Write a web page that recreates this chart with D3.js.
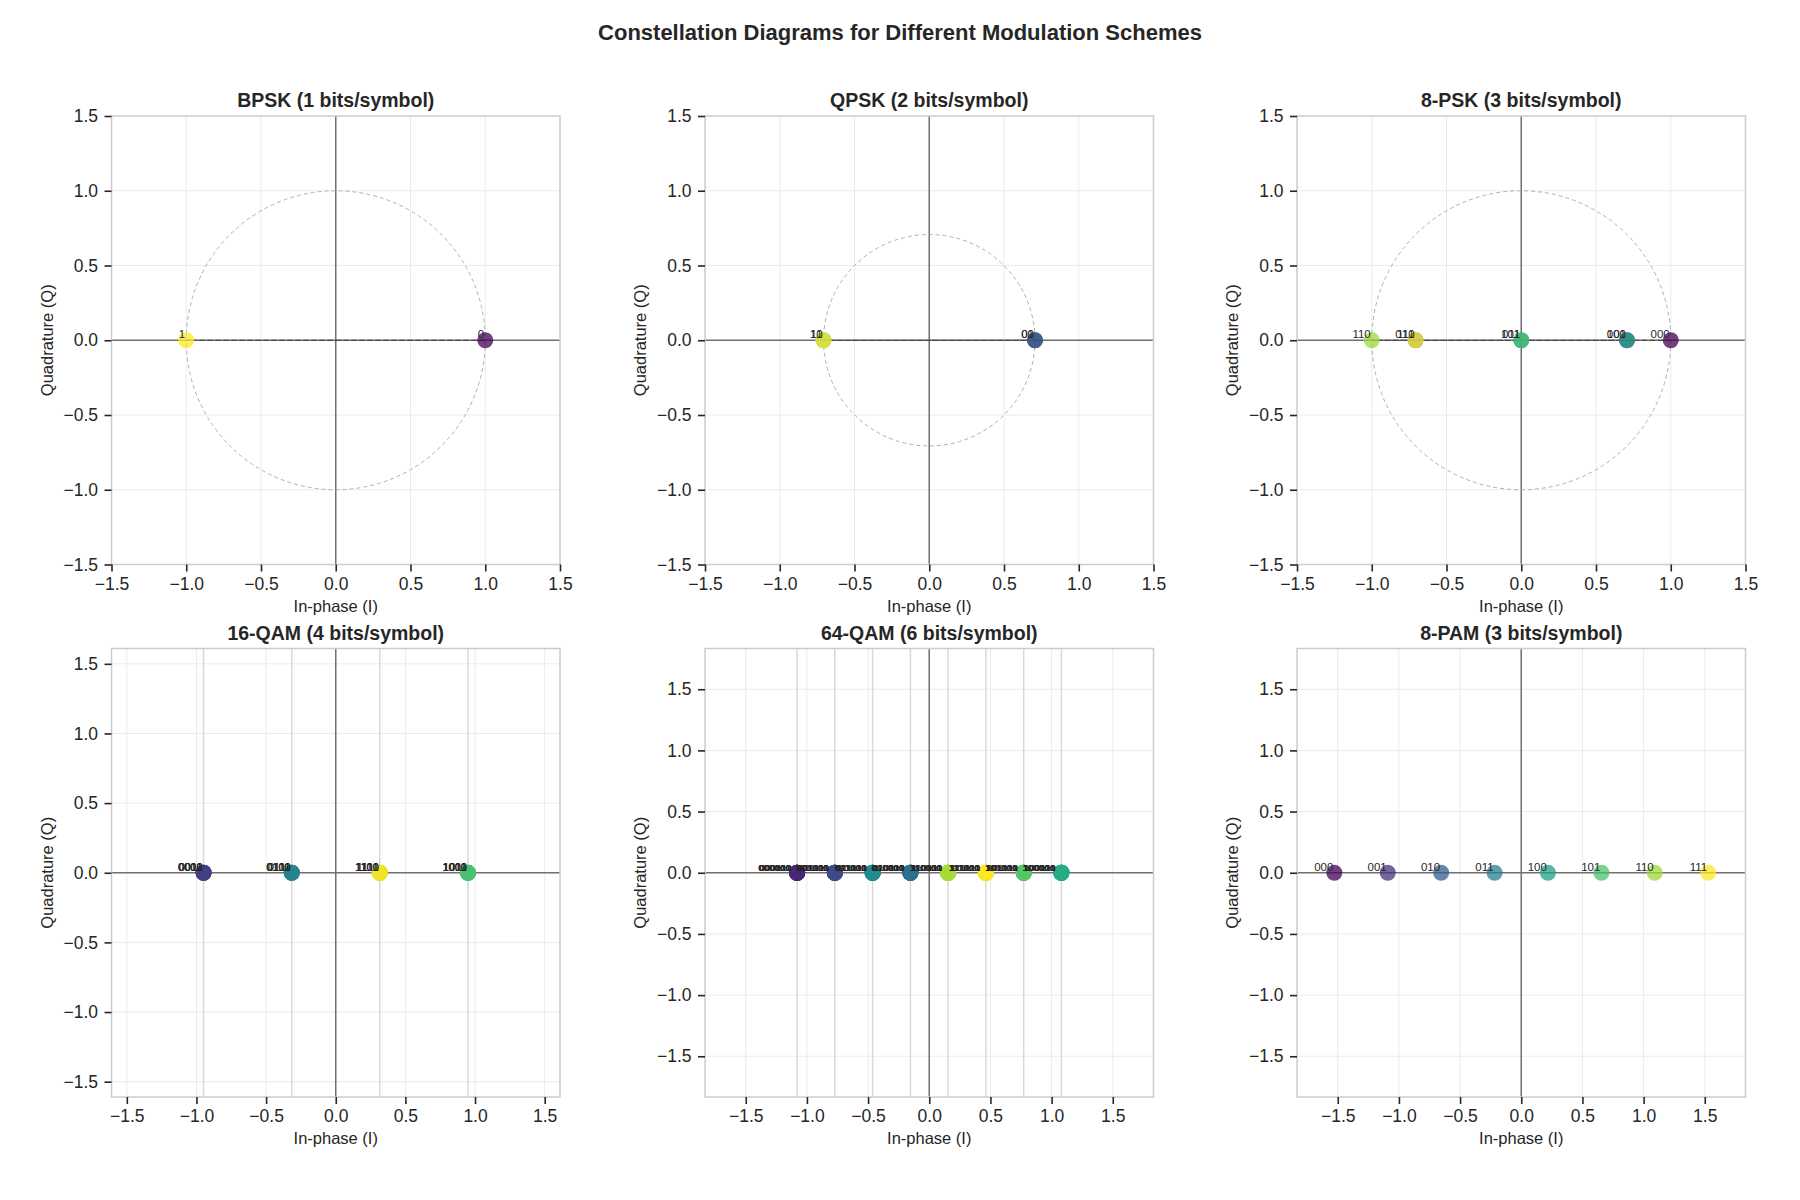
<!DOCTYPE html>
<html><head><meta charset="utf-8">
<script src="https://cdn.jsdelivr.net/npm/d3@7"></script>
<style>
body{margin:0;background:#fff}
text{font-family:"Liberation Sans",Arial,sans-serif}
</style>
</head><body>
<svg id="chart" width="1800" height="1200"></svg>
<script>
// ---------------- DATA ----------------
const mainTitle = "Constellation Diagrams for Different Modulation Schemes";
const panelTitles = ["BPSK (1 bits/symbol)", "QPSK (2 bits/symbol)", "8-PSK (3 bits/symbol)",
  "16-QAM (4 bits/symbol)", "64-QAM (6 bits/symbol)", "8-PAM (3 bits/symbol)"];
const tickLabels = [-1.5, -1.0, -0.5, 0.0, 0.5, 1.0, 1.5];
const axisLimits = [1.5, 1.5, 1.5, 1.61, 1.833, 1.833];

const bpskLabels = ["0", "1"];
const bpskI = [1.0, -1.0];
const bpskQ = [0, 0];

const qpskLabels = ["00", "01", "10", "11"];
const qpskI = [0.707, 0.707, -0.707, -0.707];
const qpskQ = [0, 0, 0, 0];

const psk8Labels = ["000", "001", "010", "011", "100", "101", "110", "111"];
const psk8I = [1.0, 0.707, -0.707, 0.0, 0.707, 0.0, -1.0, -0.707];
const psk8Q = [0, 0, 0, 0, 0, 0, 0, 0];

const qam16Labels = ["0000","0001","0010","0011","0100","0101","0110","0111",
  "1000","1001","1010","1011","1100","1101","1110","1111"];
const qam16I = [-0.949,-0.949,-0.949,-0.949,-0.316,-0.316,-0.316,-0.316,
  0.949,0.949,0.949,0.949,0.316,0.316,0.316,0.316];
const qam16Q = [0,0,0,0,0,0,0,0,0,0,0,0,0,0,0,0];

const qam64Labels = [
  "000000","000001","000010","000011","000100","000101","000110","000111",
  "001000","001001","001010","001011","001100","001101","001110","001111",
  "010000","010001","010010","010011","010100","010101","010110","010111",
  "011000","011001","011010","011011","011100","011101","011110","011111",
  "100000","100001","100010","100011","100100","100101","100110","100111",
  "101000","101001","101010","101011","101100","101101","101110","101111",
  "110000","110001","110010","110011","110100","110101","110110","110111",
  "111000","111001","111010","111011","111100","111101","111110","111111"];
const qam64I = [
  -1.080,-1.080,-1.080,-1.080,-1.080,-1.080,-1.080,-1.080,
  -0.772,-0.772,-0.772,-0.772,-0.772,-0.772,-0.772,-0.772,
  -0.154,-0.154,-0.154,-0.154,-0.154,-0.154,-0.154,-0.154,
  -0.463,-0.463,-0.463,-0.463,-0.463,-0.463,-0.463,-0.463,
  1.080,1.080,1.080,1.080,1.080,1.080,1.080,1.080,
  0.772,0.772,0.772,0.772,0.772,0.772,0.772,0.772,
  0.154,0.154,0.154,0.154,0.154,0.154,0.154,0.154,
  0.463,0.463,0.463,0.463,0.463,0.463,0.463,0.463];
const qam64Q = [
  0,0,0,0,0,0,0,0, 0,0,0,0,0,0,0,0, 0,0,0,0,0,0,0,0, 0,0,0,0,0,0,0,0,
  0,0,0,0,0,0,0,0, 0,0,0,0,0,0,0,0, 0,0,0,0,0,0,0,0, 0,0,0,0,0,0,0,0];

const pam8Labels = ["000", "001", "010", "011", "100", "101", "110", "111"];
const pam8I = [-1.528, -1.091, -0.655, -0.218, 0.218, 0.655, 1.091, 1.528];
const pam8Q = [0, 0, 0, 0, 0, 0, 0, 0];

const panelData = [
  {labels: bpskLabels, I: bpskI, Q: bpskQ, kind: "psk"},
  {labels: qpskLabels, I: qpskI, Q: qpskQ, kind: "psk"},
  {labels: psk8Labels, I: psk8I, Q: psk8Q, kind: "psk"},
  {labels: qam16Labels, I: qam16I, Q: qam16Q, kind: "qam"},
  {labels: qam64Labels, I: qam64I, Q: qam64Q, kind: "qam"},
  {labels: pam8Labels, I: pam8I, Q: pam8Q, kind: "pam"}
];

// ---------------- LAYOUT ----------------
const colLeft = [111.5, 705, 1297];
const rowTop = [116, 648.5];
const size = 448.5;
const labelFont = [11.5, 11.5, 11.5, 11, 9.8, 11.5];
const labelDx = [-1, -1, -1, -1, -6, -1];

const svg = d3.select("#chart");
svg.append("rect").attr("width", 1800).attr("height", 1200).attr("fill", "#fff");

svg.append("text").attr("x", 900).attr("y", 40).attr("text-anchor", "middle")
  .attr("font-size", 22).attr("font-weight", "bold").attr("fill", "#262626").text(mainTitle);

const fmt = d3.format(".1f");

panelData.forEach((pd, k) => {
  const left = colLeft[k % 3], top = rowTop[Math.floor(k / 3)];
  const lim = axisLimits[k];
  const x = d3.scaleLinear().domain([-lim, lim]).range([left, left + size]);
  const y = d3.scaleLinear().domain([-lim, lim]).range([top + size, top]);
  const g = svg.append("g");

  const clipId = "clip" + k;
  svg.append("clipPath").attr("id", clipId).append("rect")
    .attr("x", left).attr("y", top).attr("width", size).attr("height", size);
  const plot = g.append("g").attr("clip-path", `url(#${clipId})`);

  // grid
  plot.selectAll(".gx").data(tickLabels).join("line")
    .attr("x1", d => x(d)).attr("x2", d => x(d)).attr("y1", top).attr("y2", top + size)
    .attr("stroke", "#ebebeb").attr("stroke-width", 1);
  plot.selectAll(".gy").data(tickLabels).join("line")
    .attr("y1", d => y(d)).attr("y2", d => y(d)).attr("x1", left).attr("x2", left + size)
    .attr("stroke", "#ebebeb").attr("stroke-width", 1);

  // QAM level lines
  if (pd.kind === "qam") {
    const levels = Array.from(new Set(pd.I));
    plot.selectAll(".lv").data(levels).join("line")
      .attr("x1", d => x(d)).attr("x2", d => x(d)).attr("y1", top).attr("y2", top + size)
      .attr("stroke", "#d9d9d9").attr("stroke-width", 1.5);
  }

  // center axes lines
  plot.append("line").attr("x1", x(0)).attr("x2", x(0)).attr("y1", top).attr("y2", top + size)
    .attr("stroke", "#707070").attr("stroke-width", 1.5);
  plot.append("line").attr("y1", y(0)).attr("y2", y(0)).attr("x1", left).attr("x2", left + size)
    .attr("stroke", "#707070").attr("stroke-width", 1.5);

  const pts = pd.I.map((v, i) => ({I: v, Q: pd.Q[i], label: pd.labels[i], val: parseInt(pd.labels[i], 2)}));
  const M = pd.labels.length;

  if (pd.kind === "psk") {
    const r = d3.max(pts, p => Math.hypot(p.I, p.Q));
    plot.append("circle").attr("cx", x(0)).attr("cy", y(0)).attr("r", x(r) - x(0))
      .attr("fill", "none").attr("stroke", "#b0b0b0").attr("stroke-width", 1)
      .attr("stroke-dasharray", "4,3");
    const line = d3.line().x(p => x(p.I)).y(p => y(p.Q));
    plot.append("path").attr("d", line(pts.concat([pts[0]]))).attr("fill", "none")
      .attr("stroke", "#000").attr("stroke-opacity", 0.35).attr("stroke-width", 1.3)
      .attr("stroke-dasharray", "5,3");
  }

  // points
  plot.selectAll(".pt").data(pts).join("circle")
    .attr("cx", p => x(p.I)).attr("cy", p => y(p.Q)).attr("r", 8)
    .attr("fill", p => d3.interpolateViridis(p.val / (M - 1))).attr("fill-opacity", 0.75);

  // labels
  plot.selectAll(".lb").data(pts).join("text")
    .attr("x", p => x(p.I) + labelDx[k]).attr("y", p => y(p.Q) - 2)
    .attr("text-anchor", "end").attr("font-size", labelFont[k]).attr("fill", "#262626")
    .text(p => p.label);

  // frame
  g.append("rect").attr("x", left).attr("y", top).attr("width", size).attr("height", size)
    .attr("fill", "none").attr("stroke", "#cccccc").attr("stroke-width", 1.5);

  // axes
  const ax = g.append("g").attr("transform", `translate(0,${top + size})`)
    .call(d3.axisBottom(x).tickValues(tickLabels).tickFormat(fmt).tickSize(7).tickPadding(6));
  const ay = g.append("g").attr("transform", `translate(${left},0)`)
    .call(d3.axisLeft(y).tickValues(tickLabels).tickFormat(fmt).tickSize(7).tickPadding(6.5));
  [ax, ay].forEach(a => {
    a.select(".domain").remove();
    a.selectAll("line").attr("stroke", "#262626").attr("stroke-width", 1.6);
    a.selectAll("text").attr("font-size", 17.5).attr("fill", "#262626")
      .attr("font-family", '"Liberation Sans",Arial,sans-serif');
  });

  // axis labels
  g.append("text").attr("x", left + size / 2).attr("y", top + size + 47).attr("text-anchor", "middle")
    .attr("font-size", 16.5).attr("fill", "#262626").text("In-phase (I)");
  g.append("text").attr("transform", `translate(${left - 59},${top + size / 2}) rotate(-90)`)
    .attr("text-anchor", "middle").attr("font-size", 16.5).attr("fill", "#262626").text("Quadrature (Q)");

  // title
  g.append("text").attr("x", left + size / 2).attr("y", top - 9).attr("text-anchor", "middle")
    .attr("font-size", 19.5).attr("font-weight", "bold").attr("fill", "#262626").text(panelTitles[k]);
});
</script>
</body></html>
